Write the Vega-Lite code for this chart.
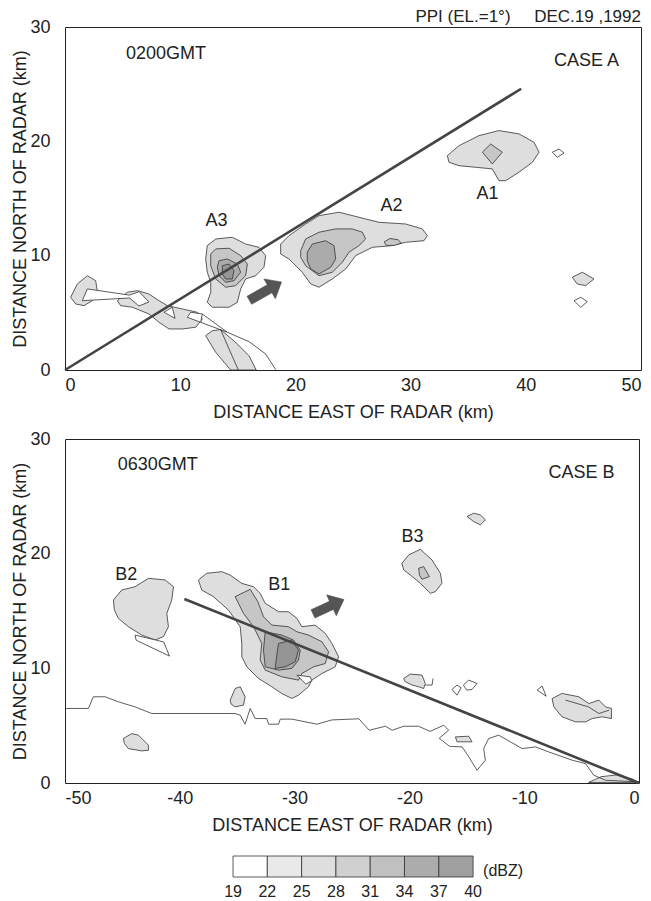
{
"$schema": "https://vega.github.io/schema/vega-lite/v6.json",
"padding": {"left": 11, "top": 7, "right": 5, "bottom": 3},
"background": "white",
"config": {
  "font": "Liberation Sans",
  "view": {"stroke": "#222", "strokeWidth": 1},
  "axis": {"labelFont": "Liberation Sans", "labelFontSize": 18, "labelColor": "#222", "titleFont": "Liberation Sans", "titleFontSize": 18, "titleFontWeight": "normal", "titleColor": "#222", "domain": false, "grid": false, "ticks": false, "minExtent": 0},
  "axisX": {"labelPadding": 6, "titlePadding": 9},
  "axisY": {"labelPadding": 15, "titlePadding": 0},
  "text": {"font": "Liberation Sans", "color": "#222"},
  "tick": {"color": "#000", "thickness": 1.4, "clip": true, "opacity": 1}
},
"datasets": {
  "tx1": [{"v":0},{"v":5},{"v":10},{"v":15},{"v":20},{"v":25},{"v":30},{"v":35},{"v":40},{"v":45},{"v":50}],
  "tx2": [{"v":-50},{"v":-45},{"v":-40},{"v":-35},{"v":-30},{"v":-25},{"v":-20},{"v":-15},{"v":-10},{"v":-5},{"v":0}],
  "ty": [{"v":0},{"v":5},{"v":10},{"v":15},{"v":20},{"v":25},{"v":30}],
  "tp": [
    {"p":"a3a","lv":1,"x":12.35,"y":10.88},{"p":"a3a","lv":1,"x":13.08,"y":11.46},{"p":"a3a","lv":1,"x":14.52,"y":11.61},{"p":"a3a","lv":1,"x":15.68,"y":11.02},{"p":"a3a","lv":1,"x":16.84,"y":10.73},{"p":"a3a","lv":1,"x":17.42,"y":10.0},{"p":"a3a","lv":1,"x":17.27,"y":8.98},{"p":"a3a","lv":1,"x":16.55,"y":8.25},{"p":"a3a","lv":1,"x":15.68,"y":7.96},{"p":"a3a","lv":1,"x":15.25,"y":7.09},{"p":"a3a","lv":1,"x":14.96,"y":5.92},{"p":"a3a","lv":1,"x":14.24,"y":5.49},{"p":"a3a","lv":1,"x":12.79,"y":5.49},{"p":"a3a","lv":1,"x":12.35,"y":5.92},{"p":"a3a","lv":1,"x":12.65,"y":6.8},{"p":"a3a","lv":1,"x":12.65,"y":7.67},{"p":"a3a","lv":1,"x":12.35,"y":8.55},{"p":"a3a","lv":1,"x":12.21,"y":9.71},
    {"p":"a3b","lv":2,"x":12.65,"y":10.15},{"p":"a3b","lv":2,"x":13.08,"y":10.59},{"p":"a3b","lv":2,"x":14.24,"y":10.65},{"p":"a3b","lv":2,"x":15.25,"y":10.0},{"p":"a3b","lv":2,"x":15.83,"y":9.27},{"p":"a3b","lv":2,"x":15.68,"y":8.25},{"p":"a3b","lv":2,"x":14.81,"y":7.38},{"p":"a3b","lv":2,"x":13.95,"y":7.24},{"p":"a3b","lv":2,"x":13.08,"y":7.96},{"p":"a3b","lv":2,"x":12.65,"y":9.12},
    {"p":"a3c","lv":3,"x":13.37,"y":9.56},{"p":"a3c","lv":3,"x":14.09,"y":9.71},{"p":"a3c","lv":3,"x":14.96,"y":9.27},{"p":"a3c","lv":3,"x":15.25,"y":8.55},{"p":"a3c","lv":3,"x":14.67,"y":7.81},{"p":"a3c","lv":3,"x":13.95,"y":7.67},{"p":"a3c","lv":3,"x":13.37,"y":8.25},{"p":"a3c","lv":3,"x":13.22,"y":8.98},
    {"p":"a3d","lv":4,"x":13.66,"y":9.12},{"p":"a3d","lv":4,"x":14.24,"y":9.27},{"p":"a3d","lv":4,"x":14.67,"y":8.69},{"p":"a3d","lv":4,"x":14.52,"y":7.96},{"p":"a3d","lv":4,"x":13.95,"y":7.96},{"p":"a3d","lv":4,"x":13.66,"y":8.4},
    {"p":"a2a","lv":1,"x":18.72,"y":11.02},{"p":"a2a","lv":1,"x":19.44,"y":11.75},{"p":"a2a","lv":1,"x":20.89,"y":12.77},{"p":"a2a","lv":1,"x":22.05,"y":13.5},{"p":"a2a","lv":1,"x":23.78,"y":13.8},{"p":"a2a","lv":1,"x":26.1,"y":13.21},{"p":"a2a","lv":1,"x":27.26,"y":12.92},{"p":"a2a","lv":1,"x":29.57,"y":12.77},{"p":"a2a","lv":1,"x":31.02,"y":12.34},{"p":"a2a","lv":1,"x":31.45,"y":11.75},{"p":"a2a","lv":1,"x":31.16,"y":11.31},{"p":"a2a","lv":1,"x":29.57,"y":11.17},{"p":"a2a","lv":1,"x":28.41,"y":10.88},{"p":"a2a","lv":1,"x":26.68,"y":10.73},{"p":"a2a","lv":1,"x":25.23,"y":10.0},{"p":"a2a","lv":1,"x":24.37,"y":8.84},{"p":"a2a","lv":1,"x":23.2,"y":7.96},{"p":"a2a","lv":1,"x":22.05,"y":7.24},{"p":"a2a","lv":1,"x":21.33,"y":7.52},{"p":"a2a","lv":1,"x":20.6,"y":8.55},{"p":"a2a","lv":1,"x":19.44,"y":9.71},{"p":"a2a","lv":1,"x":18.72,"y":10.15},
    {"p":"a2b","lv":2,"x":20.46,"y":10.44},{"p":"a2b","lv":2,"x":20.89,"y":11.46},{"p":"a2b","lv":2,"x":22.05,"y":12.05},{"p":"a2b","lv":2,"x":23.5,"y":12.34},{"p":"a2b","lv":2,"x":24.94,"y":12.34},{"p":"a2b","lv":2,"x":25.81,"y":12.05},{"p":"a2b","lv":2,"x":26.1,"y":11.46},{"p":"a2b","lv":2,"x":25.52,"y":10.88},{"p":"a2b","lv":2,"x":24.65,"y":10.3},{"p":"a2b","lv":2,"x":24.07,"y":9.42},{"p":"a2b","lv":2,"x":23.2,"y":8.55},{"p":"a2b","lv":2,"x":22.05,"y":8.25},{"p":"a2b","lv":2,"x":20.89,"y":9.12},{"p":"a2b","lv":2,"x":20.46,"y":9.86},
    {"p":"a2c","lv":3,"x":21.03,"y":10.3},{"p":"a2c","lv":3,"x":21.47,"y":11.02},{"p":"a2c","lv":3,"x":22.63,"y":11.31},{"p":"a2c","lv":3,"x":23.35,"y":10.88},{"p":"a2c","lv":3,"x":23.5,"y":9.71},{"p":"a2c","lv":3,"x":23.06,"y":8.98},{"p":"a2c","lv":3,"x":22.05,"y":8.4},{"p":"a2c","lv":3,"x":21.33,"y":8.84},{"p":"a2c","lv":3,"x":21.03,"y":9.56},
    {"p":"a2s","lv":2,"x":27.7,"y":11.2},{"p":"a2s","lv":2,"x":28.2,"y":11.5},{"p":"a2s","lv":2,"x":28.9,"y":11.4},{"p":"a2s","lv":2,"x":29.2,"y":11.1},{"p":"a2s","lv":2,"x":28.6,"y":10.9},{"p":"a2s","lv":2,"x":27.9,"y":10.9},
    {"p":"a1a","lv":1,"x":33.19,"y":18.75},{"p":"a1a","lv":1,"x":34.2,"y":19.62},{"p":"a1a","lv":1,"x":35.94,"y":20.5},{"p":"a1a","lv":1,"x":37.67,"y":20.94},{"p":"a1a","lv":1,"x":39.41,"y":20.65},{"p":"a1a","lv":1,"x":40.71,"y":19.92},{"p":"a1a","lv":1,"x":41.15,"y":19.05},{"p":"a1a","lv":1,"x":40.57,"y":18.17},{"p":"a1a","lv":1,"x":39.41,"y":17.3},{"p":"a1a","lv":1,"x":38.26,"y":16.56},{"p":"a1a","lv":1,"x":37.67,"y":16.56},{"p":"a1a","lv":1,"x":37.09,"y":17.59},{"p":"a1a","lv":1,"x":35.65,"y":17.73},{"p":"a1a","lv":1,"x":34.2,"y":17.87},{"p":"a1a","lv":1,"x":33.33,"y":18.17},
    {"p":"a1b","lv":2,"x":36.23,"y":19.05},{"p":"a1b","lv":2,"x":36.95,"y":19.77},{"p":"a1b","lv":2,"x":37.96,"y":19.05},{"p":"a1b","lv":2,"x":37.09,"y":18.02},
    {"p":"d1","lv":0,"x":42.3,"y":19.05},{"p":"d1","lv":0,"x":42.88,"y":19.33},{"p":"d1","lv":0,"x":43.32,"y":18.98},{"p":"d1","lv":0,"x":42.73,"y":18.6},
    {"p":"d2","lv":1,"x":44.04,"y":8.11},{"p":"d2","lv":1,"x":44.9,"y":8.55},{"p":"d2","lv":1,"x":45.92,"y":7.96},{"p":"d2","lv":1,"x":45.2,"y":7.38},{"p":"d2","lv":1,"x":44.47,"y":7.52},
    {"p":"d3","lv":0,"x":44.18,"y":6.06},{"p":"d3","lv":0,"x":44.77,"y":6.36},{"p":"d3","lv":0,"x":45.34,"y":5.98},{"p":"d3","lv":0,"x":44.77,"y":5.49},
    {"p":"l1","lv":1,"x":0.49,"y":6.36},{"p":"l1","lv":1,"x":1.07,"y":7.52},{"p":"l1","lv":1,"x":1.94,"y":8.25},{"p":"l1","lv":1,"x":2.66,"y":7.81},{"p":"l1","lv":1,"x":2.8,"y":6.94},{"p":"l1","lv":1,"x":2.37,"y":6.06},{"p":"l1","lv":1,"x":1.65,"y":5.63},{"p":"l1","lv":1,"x":0.93,"y":5.77},
    {"p":"m1","lv":1,"x":4.54,"y":6.06},{"p":"m1","lv":1,"x":5.41,"y":6.8},{"p":"m1","lv":1,"x":6.28,"y":6.94},{"p":"m1","lv":1,"x":7.29,"y":6.65},{"p":"m1","lv":1,"x":8.16,"y":6.06},{"p":"m1","lv":1,"x":8.88,"y":5.63},{"p":"m1","lv":1,"x":10.18,"y":5.34},{"p":"m1","lv":1,"x":11.48,"y":5.05},{"p":"m1","lv":1,"x":11.92,"y":4.46},{"p":"m1","lv":1,"x":11.35,"y":3.74},{"p":"m1","lv":1,"x":10.18,"y":3.59},{"p":"m1","lv":1,"x":9.03,"y":3.59},{"p":"m1","lv":1,"x":8.16,"y":4.17},{"p":"m1","lv":1,"x":7.29,"y":4.9},{"p":"m1","lv":1,"x":5.84,"y":5.49},{"p":"m1","lv":1,"x":4.83,"y":5.63},
    {"p":"f1","lv":1,"x":12.21,"y":3.0},{"p":"f1","lv":1,"x":12.79,"y":3.44},{"p":"f1","lv":1,"x":13.51,"y":3.53},{"p":"f1","lv":1,"x":14.81,"y":2.42},{"p":"f1","lv":1,"x":15.97,"y":1.25},{"p":"f1","lv":1,"x":16.6,"y":0.0},{"p":"f1","lv":1,"x":14.38,"y":0.0},{"p":"f1","lv":1,"x":13.08,"y":1.55},
    {"p":"w1","lv":0,"x":1.5,"y":6.06},{"p":"w1","lv":0,"x":1.94,"y":7.09},{"p":"w1","lv":0,"x":5.6,"y":6.55},{"p":"w1","lv":0,"x":6.43,"y":6.85},{"p":"w1","lv":0,"x":7.29,"y":5.95},{"p":"w1","lv":0,"x":6.42,"y":5.6},{"p":"w1","lv":0,"x":5.6,"y":6.3},
    {"p":"w2","lv":0,"x":8.59,"y":5.05},{"p":"w2","lv":0,"x":9.31,"y":5.49},{"p":"w2","lv":0,"x":9.55,"y":4.52},
    {"p":"w3","lv":0,"x":10.62,"y":4.61},{"p":"w3","lv":0,"x":10.91,"y":5.05},{"p":"w3","lv":0,"x":11.92,"y":4.9},{"p":"w3","lv":0,"x":11.78,"y":4.17},
    {"p":"o1","lv":9,"x":11.92,"y":4.9},{"p":"o1","lv":9,"x":14.09,"y":3.3},{"p":"o1","lv":9,"x":15.97,"y":2.48},{"p":"o1","lv":9,"x":17.42,"y":1.4},{"p":"o1","lv":9,"x":18.29,"y":0.03},
    {"p":"o2","lv":9,"x":11.78,"y":4.17},{"p":"o2","lv":9,"x":14.09,"y":3.3},
    {"p":"o3","lv":9,"x":13.51,"y":3.53},{"p":"o3","lv":9,"x":14.24,"y":1.84},{"p":"o3","lv":9,"x":15.05,"y":0.0},
    {"p":"r","lv":8,"x":0,"y":0},{"p":"r","lv":8,"x":39.6,"y":24.6},
    {"p":"ar","lv":7,"x":15.8,"y":6.45},{"p":"ar","lv":7,"x":17.56,"y":7.45},{"p":"ar","lv":7,"x":17.26,"y":7.97},{"p":"ar","lv":7,"x":18.8,"y":7.7},{"p":"ar","lv":7,"x":18.26,"y":6.23},{"p":"ar","lv":7,"x":17.96,"y":6.75},{"p":"ar","lv":7,"x":16.2,"y":5.75}
  ],
  "bp": [
    {"p":"b2a","lv":1,"x":-45.78,"y":15.96},{"p":"b2a","lv":1,"x":-45.06,"y":16.83},{"p":"b2a","lv":1,"x":-43.9,"y":17.12},{"p":"b2a","lv":1,"x":-42.73,"y":17.85},{"p":"b2a","lv":1,"x":-41.28,"y":17.71},{"p":"b2a","lv":1,"x":-40.55,"y":17.12},{"p":"b2a","lv":1,"x":-40.7,"y":15.96},{"p":"b2a","lv":1,"x":-41.13,"y":14.79},{"p":"b2a","lv":1,"x":-40.99,"y":13.63},{"p":"b2a","lv":1,"x":-41.43,"y":12.76},{"p":"b2a","lv":1,"x":-42.15,"y":12.47},{"p":"b2a","lv":1,"x":-43.31,"y":12.9},{"p":"b2a","lv":1,"x":-44.48,"y":13.63},{"p":"b2a","lv":1,"x":-45.35,"y":14.36},{"p":"b2a","lv":1,"x":-45.7,"y":15.09},
    {"p":"b2w","lv":0,"x":-43.9,"y":12.9},{"p":"b2w","lv":0,"x":-41.4,"y":12.3},{"p":"b2w","lv":0,"x":-40.9,"y":11.07},{"p":"b2w","lv":0,"x":-43.8,"y":12.45},
    {"p":"b1a","lv":1,"x":-38.38,"y":17.7},{"p":"b1a","lv":1,"x":-37.65,"y":18.29},{"p":"b1a","lv":1,"x":-36.34,"y":18.43},{"p":"b1a","lv":1,"x":-35.62,"y":18.14},{"p":"b1a","lv":1,"x":-34.6,"y":17.41},{"p":"b1a","lv":1,"x":-33.58,"y":17.12},{"p":"b1a","lv":1,"x":-33.0,"y":16.54},{"p":"b1a","lv":1,"x":-32.56,"y":15.67},{"p":"b1a","lv":1,"x":-31.4,"y":14.94},{"p":"b1a","lv":1,"x":-30.53,"y":14.94},{"p":"b1a","lv":1,"x":-29.8,"y":14.36},{"p":"b1a","lv":1,"x":-29.37,"y":13.63},{"p":"b1a","lv":1,"x":-28.21,"y":13.77},{"p":"b1a","lv":1,"x":-27.33,"y":13.05},{"p":"b1a","lv":1,"x":-26.75,"y":12.17},{"p":"b1a","lv":1,"x":-26.17,"y":11.01},{"p":"b1a","lv":1,"x":-26.46,"y":10.13},{"p":"b1a","lv":1,"x":-27.62,"y":9.55},{"p":"b1a","lv":1,"x":-28.5,"y":8.97},{"p":"b1a","lv":1,"x":-28.79,"y":8.39},{"p":"b1a","lv":1,"x":-29.66,"y":7.66},{"p":"b1a","lv":1,"x":-30.24,"y":7.37},{"p":"b1a","lv":1,"x":-31.11,"y":7.8},{"p":"b1a","lv":1,"x":-31.98,"y":8.39},{"p":"b1a","lv":1,"x":-33.15,"y":9.12},{"p":"b1a","lv":1,"x":-34.16,"y":10.13},{"p":"b1a","lv":1,"x":-34.6,"y":11.01},{"p":"b1a","lv":1,"x":-34.6,"y":12.17},{"p":"b1a","lv":1,"x":-34.74,"y":13.63},{"p":"b1a","lv":1,"x":-35.76,"y":15.08},{"p":"b1a","lv":1,"x":-37.07,"y":16.25},{"p":"b1a","lv":1,"x":-38.09,"y":16.83},
    {"p":"b1b","lv":2,"x":-35.18,"y":16.25},{"p":"b1b","lv":2,"x":-33.87,"y":16.89},{"p":"b1b","lv":2,"x":-33.2,"y":15.81},{"p":"b1b","lv":2,"x":-32.71,"y":14.5},{"p":"b1b","lv":2,"x":-31.98,"y":13.77},{"p":"b1b","lv":2,"x":-30.53,"y":13.63},{"p":"b1b","lv":2,"x":-29.8,"y":13.19},{"p":"b1b","lv":2,"x":-28.79,"y":12.9},{"p":"b1b","lv":2,"x":-27.62,"y":12.32},{"p":"b1b","lv":2,"x":-27.04,"y":11.44},{"p":"b1b","lv":2,"x":-27.33,"y":10.42},{"p":"b1b","lv":2,"x":-28.35,"y":10.13},{"p":"b1b","lv":2,"x":-29.37,"y":9.55},{"p":"b1b","lv":2,"x":-29.66,"y":8.97},{"p":"b1b","lv":2,"x":-31.11,"y":9.26},{"p":"b1b","lv":2,"x":-32.56,"y":9.84},{"p":"b1b","lv":2,"x":-33.0,"y":10.72},{"p":"b1b","lv":2,"x":-32.86,"y":12.17},{"p":"b1b","lv":2,"x":-33.58,"y":13.63},{"p":"b1b","lv":2,"x":-34.45,"y":14.79},
    {"p":"b1c","lv":3,"x":-32.56,"y":13.19},{"p":"b1c","lv":3,"x":-31.11,"y":12.9},{"p":"b1c","lv":3,"x":-30.09,"y":12.46},{"p":"b1c","lv":3,"x":-29.51,"y":11.59},{"p":"b1c","lv":3,"x":-29.66,"y":10.72},{"p":"b1c","lv":3,"x":-30.24,"y":9.99},{"p":"b1c","lv":3,"x":-31.4,"y":9.84},{"p":"b1c","lv":3,"x":-32.56,"y":10.13},{"p":"b1c","lv":3,"x":-32.71,"y":11.59},
    {"p":"b1d","lv":4,"x":-31.4,"y":12.17},{"p":"b1d","lv":4,"x":-30.24,"y":12.46},{"p":"b1d","lv":4,"x":-29.66,"y":11.59},{"p":"b1d","lv":4,"x":-29.95,"y":10.57},{"p":"b1d","lv":4,"x":-30.82,"y":10.13},{"p":"b1d","lv":4,"x":-31.69,"y":9.99},{"p":"b1d","lv":4,"x":-31.55,"y":11.15},
    {"p":"b1w","lv":0,"x":-29.8,"y":9.41},{"p":"b1w","lv":0,"x":-28.64,"y":9.26},{"p":"b1w","lv":0,"x":-28.5,"y":8.91},{"p":"b1w","lv":0,"x":-29.02,"y":8.62},
    {"p":"s1","lv":1,"x":-35.61,"y":7.23},{"p":"s1","lv":1,"x":-35.18,"y":8.24},{"p":"s1","lv":1,"x":-34.74,"y":8.39},{"p":"s1","lv":1,"x":-34.31,"y":7.52},{"p":"s1","lv":1,"x":-34.45,"y":6.79},{"p":"s1","lv":1,"x":-35.18,"y":6.64},{"p":"s1","lv":1,"x":-35.53,"y":6.88},
    {"p":"s2","lv":1,"x":-44.91,"y":3.88},{"p":"s2","lv":1,"x":-44.19,"y":4.31},{"p":"s2","lv":1,"x":-43.6,"y":4.17},{"p":"s2","lv":1,"x":-42.73,"y":3.3},{"p":"s2","lv":1,"x":-42.73,"y":2.86},{"p":"s2","lv":1,"x":-43.31,"y":2.8},{"p":"s2","lv":1,"x":-44.48,"y":3.0},{"p":"s2","lv":1,"x":-44.83,"y":3.44},
    {"p":"s3","lv":1,"x":-15.99,"y":4.02},{"p":"s3","lv":1,"x":-14.83,"y":4.08},{"p":"s3","lv":1,"x":-14.54,"y":3.59},{"p":"s3","lv":1,"x":-15.85,"y":3.59},
    {"p":"s4","lv":1,"x":-4.4,"y":0.05},{"p":"s4","lv":1,"x":-3.3,"y":0.55},{"p":"s4","lv":1,"x":-2.0,"y":0.7},{"p":"s4","lv":1,"x":-0.6,"y":0.35},{"p":"s4","lv":1,"x":0,"y":0.05},
    {"p":"s5","lv":1,"x":-14.98,"y":23.24},{"p":"s5","lv":1,"x":-14.4,"y":23.53},{"p":"s5","lv":1,"x":-13.82,"y":23.38},{"p":"s5","lv":1,"x":-13.38,"y":22.95},{"p":"s5","lv":1,"x":-13.82,"y":22.51},{"p":"s5","lv":1,"x":-14.4,"y":22.8},
    {"p":"b3a","lv":1,"x":-20.65,"y":19.16},{"p":"b3a","lv":1,"x":-20.06,"y":19.89},{"p":"b3a","lv":1,"x":-19.05,"y":20.38},{"p":"b3a","lv":1,"x":-18.03,"y":19.45},{"p":"b3a","lv":1,"x":-17.3,"y":18.29},{"p":"b3a","lv":1,"x":-17.16,"y":17.42},{"p":"b3a","lv":1,"x":-17.74,"y":16.69},{"p":"b3a","lv":1,"x":-18.17,"y":16.54},{"p":"b3a","lv":1,"x":-19.05,"y":17.42},{"p":"b3a","lv":1,"x":-19.92,"y":18.14},{"p":"b3a","lv":1,"x":-20.5,"y":18.58},
    {"p":"b3b","lv":2,"x":-19.19,"y":18.73},{"p":"b3b","lv":2,"x":-18.76,"y":18.87},{"p":"b3b","lv":2,"x":-18.26,"y":18.0},{"p":"b3b","lv":2,"x":-18.9,"y":17.77},{"p":"b3b","lv":2,"x":-19.13,"y":18.14},
    {"p":"s6","lv":1,"x":-20.5,"y":9.12},{"p":"s6","lv":1,"x":-19.92,"y":9.5},{"p":"s6","lv":1,"x":-18.9,"y":9.41},{"p":"s6","lv":1,"x":-18.61,"y":8.68},{"p":"s6","lv":1,"x":-18.76,"y":8.24},{"p":"s6","lv":1,"x":-19.19,"y":8.39},{"p":"s6","lv":1,"x":-19.77,"y":8.54},{"p":"s6","lv":1,"x":-20.36,"y":8.83},
    {"p":"s7","lv":0,"x":-16.29,"y":8.16},{"p":"s7","lv":0,"x":-15.85,"y":8.54},{"p":"s7","lv":0,"x":-15.5,"y":8.3},{"p":"s7","lv":0,"x":-15.85,"y":7.66},
    {"p":"s8","lv":0,"x":-15.3,"y":8.54},{"p":"s8","lv":0,"x":-14.83,"y":8.97},{"p":"s8","lv":0,"x":-14.11,"y":8.68},{"p":"s8","lv":0,"x":-14.54,"y":8.16},{"p":"s8","lv":0,"x":-15.0,"y":8.1},
    {"p":"s9","lv":0,"x":-8.88,"y":8.1},{"p":"s9","lv":0,"x":-8.44,"y":8.45},{"p":"s9","lv":0,"x":-8.09,"y":7.57},
    {"p":"s10","lv":1,"x":-7.57,"y":7.37},{"p":"s10","lv":1,"x":-6.7,"y":7.81},{"p":"s10","lv":1,"x":-5.24,"y":7.52},{"p":"s10","lv":1,"x":-4.37,"y":6.93},{"p":"s10","lv":1,"x":-3.5,"y":7.23},{"p":"s10","lv":1,"x":-2.92,"y":6.64},{"p":"s10","lv":1,"x":-2.4,"y":6.5},{"p":"s10","lv":1,"x":-2.4,"y":5.62},{"p":"s10","lv":1,"x":-3.21,"y":5.77},{"p":"s10","lv":1,"x":-4.08,"y":5.62},{"p":"s10","lv":1,"x":-4.66,"y":5.33},{"p":"s10","lv":1,"x":-5.53,"y":5.33},{"p":"s10","lv":1,"x":-6.7,"y":5.77},{"p":"s10","lv":1,"x":-7.42,"y":6.64},
    {"p":"n1","lv":9,"x":-50,"y":6.5},{"p":"n1","lv":9,"x":-47.96,"y":6.5},{"p":"n1","lv":9,"x":-47.53,"y":7.52},{"p":"n1","lv":9,"x":-46.51,"y":7.52},{"p":"n1","lv":9,"x":-45.35,"y":7.08},{"p":"n1","lv":9,"x":-43.9,"y":6.64},{"p":"n1","lv":9,"x":-42.44,"y":6.06},{"p":"n1","lv":9,"x":-35.18,"y":6.06},{"p":"n1","lv":9,"x":-34.74,"y":5.92},{"p":"n1","lv":9,"x":-34.31,"y":5.13},{"p":"n1","lv":9,"x":-33.87,"y":6.5},{"p":"n1","lv":9,"x":-33.43,"y":5.62},{"p":"n1","lv":9,"x":-32.42,"y":5.62},{"p":"n1","lv":9,"x":-32.27,"y":5.13},{"p":"n1","lv":9,"x":-31.4,"y":5.13},{"p":"n1","lv":9,"x":-31.25,"y":5.57},{"p":"n1","lv":9,"x":-30.24,"y":5.57},{"p":"n1","lv":9,"x":-28.06,"y":5.13},{"p":"n1","lv":9,"x":-26.75,"y":5.5},{"p":"n1","lv":9,"x":-24.4,"y":5.6},{"p":"n1","lv":9,"x":-23.5,"y":4.6},{"p":"n1","lv":9,"x":-22.1,"y":4.95},{"p":"n1","lv":9,"x":-21.5,"y":4.6},{"p":"n1","lv":9,"x":-20.5,"y":4.95},{"p":"n1","lv":9,"x":-19.2,"y":4.95},{"p":"n1","lv":9,"x":-18.2,"y":4.5},{"p":"n1","lv":9,"x":-17.0,"y":5.04},{"p":"n1","lv":9,"x":-16.58,"y":4.6},{"p":"n1","lv":9,"x":-17.4,"y":3.9},{"p":"n1","lv":9,"x":-16.5,"y":3.2},{"p":"n1","lv":9,"x":-15.41,"y":3.15},{"p":"n1","lv":9,"x":-14.83,"y":2.28},{"p":"n1","lv":9,"x":-14.11,"y":1.11},{"p":"n1","lv":9,"x":-13.38,"y":1.99},{"p":"n1","lv":9,"x":-13.53,"y":3.0},{"p":"n1","lv":9,"x":-13.09,"y":3.88},{"p":"n1","lv":9,"x":-12.22,"y":4.17},{"p":"n1","lv":9,"x":-11.2,"y":3.59},{"p":"n1","lv":9,"x":-10.18,"y":3.0},{"p":"n1","lv":9,"x":-9.02,"y":3.15},{"p":"n1","lv":9,"x":-7.86,"y":2.71},{"p":"n1","lv":9,"x":-5.82,"y":1.99},{"p":"n1","lv":9,"x":-4.66,"y":1.69},{"p":"n1","lv":9,"x":-3.94,"y":0.68},{"p":"n1","lv":9,"x":-2.92,"y":0.24},{"p":"n1","lv":9,"x":0,"y":0.09},
    {"p":"n2","lv":9,"x":-18.61,"y":8.54},{"p":"n2","lv":9,"x":-18.03,"y":8.54},{"p":"n2","lv":9,"x":-17.94,"y":9.12},
    {"p":"n3","lv":9,"x":-6.4,"y":7.23},{"p":"n3","lv":9,"x":-4.4,"y":6.64},{"p":"n3","lv":9,"x":-3.5,"y":6.06},{"p":"n3","lv":9,"x":-2.6,"y":6.35},
    {"p":"r","lv":8,"x":-39.6,"y":16.05},{"p":"r","lv":8,"x":0,"y":0},
    {"p":"ar","lv":7,"x":-28.57,"y":15.11},{"p":"ar","lv":7,"x":-26.96,"y":15.86},{"p":"ar","lv":7,"x":-27.21,"y":16.41},{"p":"ar","lv":7,"x":-25.7,"y":16.0},{"p":"ar","lv":7,"x":-26.37,"y":14.59},{"p":"ar","lv":7,"x":-26.62,"y":15.14},{"p":"ar","lv":7,"x":-28.23,"y":14.39}
  ],
  "tt": [
    {"x":8.77,"y":27.2,"t":"0200GMT"},{"x":45.27,"y":26.6,"t":"CASE A"},{"x":13.15,"y":12.6,"t":"A3"},{"x":28.34,"y":13.9,"t":"A2"},{"x":36.68,"y":14.96,"t":"A1"}
  ],
  "bt": [
    {"x":-41.92,"y":27.3,"t":"0630GMT"},{"x":-5.0,"y":26.6,"t":"CASE B"},{"x":-44.66,"y":17.7,"t":"B2"},{"x":-31.33,"y":16.83,"t":"B1"},{"x":-19.73,"y":21.0,"t":"B3"}
  ],
  "leg": [
    {"lo":19,"hi":22},{"lo":22,"hi":25},{"lo":25,"hi":28},{"lo":28,"hi":31},{"lo":31,"hi":34},{"lo":34,"hi":37},{"lo":37,"hi":40}
  ],
  "legl": [
    {"v":19},{"v":22},{"v":25},{"v":28},{"v":31},{"v":34},{"v":37},{"v":40}
  ]
},
"spacing": 20,
"vconcat": [
  {
    "spacing": 7,
    "vconcat": [
      {
        "width": 576, "height": 343,
        "title": {"text": "PPI (EL.=1°)\u00a0\u00a0\u00a0\u00a0\u00a0DEC.19 ,1992", "anchor": "end", "frame": "group", "fontSize": 17, "fontWeight": "normal", "font": "Liberation Sans", "color": "#222", "offset": -8},
        "resolve": {"axis": {"x": "independent", "y": "independent"}},
        "encoding": {
          "x": {"field": "x", "type": "quantitative", "scale": {"domain": [0, 50], "nice": false, "zero": false}, "axis": null},
          "y": {"field": "y", "type": "quantitative", "scale": {"domain": [0, 30], "nice": false, "zero": false}, "axis": null}
        },
        "layer": [
          {"data": {"name": "tp"}, "transform": [{"filter": "datum.lv === 1"}], "mark": {"type": "line", "interpolate": "linear-closed", "fill": "#dedede", "stroke": "#333", "strokeWidth": 0.8}, "encoding": {"detail": {"field": "p"}, "order": {"value": null}}},
          {"data": {"name": "tp"}, "transform": [{"filter": "datum.lv === 2"}], "mark": {"type": "line", "interpolate": "linear-closed", "fill": "#c6c6c6", "stroke": "#333", "strokeWidth": 0.8}, "encoding": {"detail": {"field": "p"}, "order": {"value": null}}},
          {"data": {"name": "tp"}, "transform": [{"filter": "datum.lv === 3"}], "mark": {"type": "line", "interpolate": "linear-closed", "fill": "#ababab", "stroke": "#333", "strokeWidth": 0.8}, "encoding": {"detail": {"field": "p"}, "order": {"value": null}}},
          {"data": {"name": "tp"}, "transform": [{"filter": "datum.lv === 4"}], "mark": {"type": "line", "interpolate": "linear-closed", "fill": "#959595", "stroke": "#333", "strokeWidth": 0.8}, "encoding": {"detail": {"field": "p"}, "order": {"value": null}}},
          {"data": {"name": "tp"}, "transform": [{"filter": "datum.lv === 0"}], "mark": {"type": "line", "interpolate": "linear-closed", "fill": "#ffffff", "stroke": "#333", "strokeWidth": 0.8}, "encoding": {"detail": {"field": "p"}, "order": {"value": null}}},
          {"data": {"name": "tp"}, "transform": [{"filter": "datum.lv === 9"}], "mark": {"type": "line", "stroke": "#333", "strokeWidth": 0.8}, "encoding": {"detail": {"field": "p"}, "order": {"value": null}}},
          {"data": {"name": "tp"}, "transform": [{"filter": "datum.lv === 7"}], "mark": {"type": "line", "interpolate": "linear-closed", "fill": "#555555", "stroke": "#444", "strokeWidth": 0.5}, "encoding": {"detail": {"field": "p"}, "order": {"value": null}}},
          {"data": {"name": "tp"}, "transform": [{"filter": "datum.lv === 8"}], "mark": {"type": "line", "stroke": "#444", "strokeWidth": 2.6}, "encoding": {
            "x": {"field": "x", "type": "quantitative", "scale": {"domain": [0, 50], "nice": false, "zero": false}, "axis": {"orient": "bottom", "values": [0,10,20,30,40,50], "labelExpr": "toString(datum.value)", "title": "DISTANCE EAST OF RADAR (km)"}},
            "y": {"field": "y", "type": "quantitative", "scale": {"domain": [0, 30], "nice": false, "zero": false}, "axis": {"orient": "left", "values": [0,10,20,30], "labelExpr": "toString(datum.value)", "title": "DISTANCE NORTH OF RADAR (km)"}},
            "order": {"value": null}}},
          {"data": {"name": "tx1"}, "mark": {"type": "tick", "orient": "vertical", "size": 12}, "encoding": {"x": {"field": "v", "type": "quantitative", "scale": {"domain": [0, 50], "nice": false, "zero": false}, "axis": null}, "y": {"datum": 0, "type": "quantitative", "scale": {"domain": [0, 30], "nice": false, "zero": false}, "axis": null}}},
          {"data": {"name": "tx1"}, "mark": {"type": "tick", "orient": "vertical", "size": 12}, "encoding": {"x": {"field": "v", "type": "quantitative", "scale": {"domain": [0, 50], "nice": false, "zero": false}, "axis": null}, "y": {"datum": 30, "type": "quantitative", "scale": {"domain": [0, 30], "nice": false, "zero": false}, "axis": null}}},
          {"data": {"name": "ty"}, "mark": {"type": "tick", "orient": "horizontal", "size": 12}, "encoding": {"y": {"field": "v", "type": "quantitative", "scale": {"domain": [0, 30], "nice": false, "zero": false}, "axis": null}, "x": {"datum": 0, "type": "quantitative", "scale": {"domain": [0, 50], "nice": false, "zero": false}, "axis": null}}},
          {"data": {"name": "ty"}, "mark": {"type": "tick", "orient": "horizontal", "size": 12}, "encoding": {"y": {"field": "v", "type": "quantitative", "scale": {"domain": [0, 30], "nice": false, "zero": false}, "axis": null}, "x": {"datum": 50, "type": "quantitative", "scale": {"domain": [0, 50], "nice": false, "zero": false}, "axis": null}}},
          {"data": {"name": "tt"}, "mark": {"type": "text", "fontSize": 18, "align": "center", "baseline": "alphabetic"}, "encoding": {"text": {"field": "t"}}}
        ]
      },
      {
        "width": 574, "height": 344,
        "resolve": {"axis": {"x": "independent", "y": "independent"}},
        "encoding": {
          "x": {"field": "x", "type": "quantitative", "scale": {"domain": [-50, 0], "nice": false, "zero": false}, "axis": null},
          "y": {"field": "y", "type": "quantitative", "scale": {"domain": [0, 30], "nice": false, "zero": false}, "axis": null}
        },
        "layer": [
          {"data": {"name": "bp"}, "transform": [{"filter": "datum.lv === 1"}], "mark": {"type": "line", "interpolate": "linear-closed", "fill": "#dedede", "stroke": "#333", "strokeWidth": 0.8}, "encoding": {"detail": {"field": "p"}, "order": {"value": null}}},
          {"data": {"name": "bp"}, "transform": [{"filter": "datum.lv === 2"}], "mark": {"type": "line", "interpolate": "linear-closed", "fill": "#c6c6c6", "stroke": "#333", "strokeWidth": 0.8}, "encoding": {"detail": {"field": "p"}, "order": {"value": null}}},
          {"data": {"name": "bp"}, "transform": [{"filter": "datum.lv === 3"}], "mark": {"type": "line", "interpolate": "linear-closed", "fill": "#ababab", "stroke": "#333", "strokeWidth": 0.8}, "encoding": {"detail": {"field": "p"}, "order": {"value": null}}},
          {"data": {"name": "bp"}, "transform": [{"filter": "datum.lv === 4"}], "mark": {"type": "line", "interpolate": "linear-closed", "fill": "#959595", "stroke": "#333", "strokeWidth": 0.8}, "encoding": {"detail": {"field": "p"}, "order": {"value": null}}},
          {"data": {"name": "bp"}, "transform": [{"filter": "datum.lv === 0"}], "mark": {"type": "line", "interpolate": "linear-closed", "fill": "#ffffff", "stroke": "#333", "strokeWidth": 0.8}, "encoding": {"detail": {"field": "p"}, "order": {"value": null}}},
          {"data": {"name": "bp"}, "transform": [{"filter": "datum.lv === 9"}], "mark": {"type": "line", "stroke": "#333", "strokeWidth": 0.8}, "encoding": {"detail": {"field": "p"}, "order": {"value": null}}},
          {"data": {"name": "bp"}, "transform": [{"filter": "datum.lv === 7"}], "mark": {"type": "line", "interpolate": "linear-closed", "fill": "#555555", "stroke": "#444", "strokeWidth": 0.5}, "encoding": {"detail": {"field": "p"}, "order": {"value": null}}},
          {"data": {"name": "bp"}, "transform": [{"filter": "datum.lv === 8"}], "mark": {"type": "line", "stroke": "#444", "strokeWidth": 2.6}, "encoding": {
            "x": {"field": "x", "type": "quantitative", "scale": {"domain": [-50, 0], "nice": false, "zero": false}, "axis": {"orient": "bottom", "values": [-50,-40,-30,-20,-10,0], "labelExpr": "toString(datum.value)", "title": "DISTANCE EAST OF RADAR (km)"}},
            "y": {"field": "y", "type": "quantitative", "scale": {"domain": [0, 30], "nice": false, "zero": false}, "axis": {"orient": "left", "values": [0,10,20,30], "labelExpr": "toString(datum.value)", "title": "DISTANCE NORTH OF RADAR (km)"}},
            "order": {"value": null}}},
          {"data": {"name": "tx2"}, "mark": {"type": "tick", "orient": "vertical", "size": 12}, "encoding": {"x": {"field": "v", "type": "quantitative", "scale": {"domain": [-50, 0], "nice": false, "zero": false}, "axis": null}, "y": {"datum": 0, "type": "quantitative", "scale": {"domain": [0, 30], "nice": false, "zero": false}, "axis": null}}},
          {"data": {"name": "tx2"}, "mark": {"type": "tick", "orient": "vertical", "size": 12}, "encoding": {"x": {"field": "v", "type": "quantitative", "scale": {"domain": [-50, 0], "nice": false, "zero": false}, "axis": null}, "y": {"datum": 30, "type": "quantitative", "scale": {"domain": [0, 30], "nice": false, "zero": false}, "axis": null}}},
          {"data": {"name": "ty"}, "mark": {"type": "tick", "orient": "horizontal", "size": 12}, "encoding": {"y": {"field": "v", "type": "quantitative", "scale": {"domain": [0, 30], "nice": false, "zero": false}, "axis": null}, "x": {"datum": -50, "type": "quantitative", "scale": {"domain": [-50, 0], "nice": false, "zero": false}, "axis": null}}},
          {"data": {"name": "ty"}, "mark": {"type": "tick", "orient": "horizontal", "size": 12}, "encoding": {"y": {"field": "v", "type": "quantitative", "scale": {"domain": [0, 30], "nice": false, "zero": false}, "axis": null}, "x": {"datum": 0, "type": "quantitative", "scale": {"domain": [-50, 0], "nice": false, "zero": false}, "axis": null}}},
          {"data": {"name": "bt"}, "mark": {"type": "text", "fontSize": 18, "align": "center", "baseline": "alphabetic"}, "encoding": {"text": {"field": "t"}}}
        ]
      }
    ]
  },
  {
    "width": 576, "height": 21,
    "view": {"stroke": null},
    "layer": [
      {"data": {"name": "leg"}, "mark": {"type": "rect", "stroke": "#333", "strokeWidth": 0.8}, "encoding": {
        "x": {"field": "lo", "type": "quantitative", "scale": {"domain": [4.3, 54.69], "nice": false, "zero": false}, "axis": null},
        "x2": {"field": "hi"},
        "y": {"datum": 0, "type": "quantitative", "scale": {"domain": [0, 1], "nice": false}, "axis": null},
        "y2": {"datum": 1},
        "fill": {"field": "lo", "type": "ordinal", "scale": {"domain": [19,22,25,28,31,34,37], "range": ["#ffffff","#e9e9e9","#dedede","#d0d0d0","#c0c0c0","#acacac","#9f9f9f"]}, "legend": null}}},
      {"data": {"name": "legl"}, "mark": {"type": "text", "fontSize": 16, "baseline": "top", "dy": 7, "align": "center"}, "encoding": {
        "x": {"field": "v", "type": "quantitative"},
        "y": {"datum": 0, "type": "quantitative"},
        "text": {"field": "v", "type": "quantitative"}}},
      {"data": {"values": [{"t": "(dBZ)"}]}, "mark": {"type": "text", "fontSize": 16, "baseline": "middle", "align": "left", "dx": 10}, "encoding": {
        "x": {"datum": 40, "type": "quantitative"},
        "y": {"datum": 0.3, "type": "quantitative"},
        "text": {"field": "t"}}}
    ]
  }
]
}
